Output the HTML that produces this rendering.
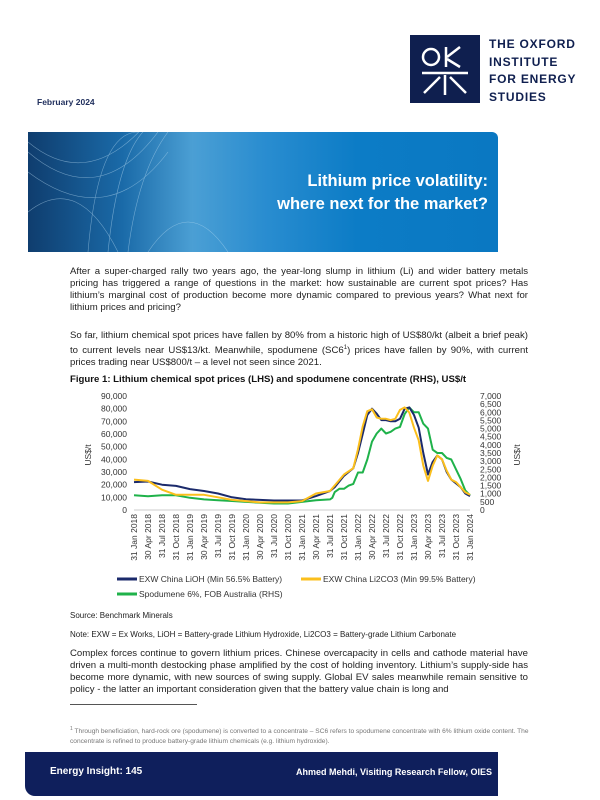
<!DOCTYPE html>
<html><head><meta charset="utf-8"><style>
*{margin:0;padding:0}
body{width:600px;height:800px;position:relative;background:#fff;font-family:"Liberation Sans",Arial,sans-serif;color:#222;overflow:hidden}
.a{position:absolute}
p.t{position:absolute;left:70px;width:458px;font-size:9.6px;line-height:12px;text-align:justify;color:#222}
</style></head><body>
<div class="a" style="left:410px;top:35px;width:70px;height:68px;background:#0f1f4f"></div>
<svg class="a" style="left:410px;top:35px" width="70" height="68">
<g stroke="#fff" stroke-width="2.5" fill="none">
<circle cx="21" cy="22" r="8"/><line x1="36" y1="12" x2="36" y2="32"/><line x1="37" y1="22" x2="50" y2="12"/><line x1="37" y1="24" x2="50" y2="32"/>
<line x1="12" y1="38" x2="58" y2="38"/><line x1="35" y1="40" x2="35" y2="60"/><line x1="30" y1="42" x2="14" y2="58"/><line x1="40" y1="42" x2="56" y2="58"/>
</g></svg>
<div class="a" style="left:489px;top:36px;font-size:12px;font-weight:bold;line-height:17.5px;color:#0f1f4f;letter-spacing:0.8px;font-family:'Liberation Sans',sans-serif">THE OXFORD<br>INSTITUTE<br>FOR ENERGY<br>STUDIES</div>
<div class="a" style="left:37px;top:97px;font-size:8.5px;font-weight:bold;color:#1f2e5c">February 2024</div>
<div class="a" style="left:28px;top:132px;width:470px;height:120px;border-radius:0 6px 0 0;background:linear-gradient(90deg,#0f3d6e 0%,#1a6aa8 20%,#4b9fd4 35%,#2a8dd0 50%,#0c7cc6 70%,#0a78c2 100%);overflow:hidden">
<svg width="470" height="120"><g fill="none" stroke="#bfe0f5" stroke-width="0.6" opacity="0.5">
<path d="M0 10 Q60 60 120 -10"/><path d="M0 20 Q70 80 130 0"/><path d="M0 40 Q80 100 140 20"/><path d="M60 120 Q70 0 110 0"/><path d="M80 120 Q90 20 120 -5"/><path d="M100 120 Q110 40 140 0"/><path d="M120 120 Q160 60 200 120"/><path d="M0 80 Q50 40 90 120"/></g></svg></div>
<div class="a" style="left:126px;top:170px;width:362px;text-align:right;color:#fff;font-weight:bold;font-size:16.5px;line-height:23px">Lithium price volatility:<br>where next for the market?</div>
<p class="t" style="top:266px">After a super-charged rally two years ago, the year-long slump in lithium (Li) and wider battery metals pricing has triggered a range of questions in the market: how sustainable are current spot prices? Has lithium’s marginal cost of production become more dynamic compared to previous years? What next for lithium prices and pricing?</p>
<p class="t" style="top:330px">So far, lithium chemical spot prices have fallen by 80% from a historic high of US$80/kt (albeit a brief peak) to current levels near US$13/kt. Meanwhile, spodumene (SC6<sup style="font-size:6px">1</sup>) prices have fallen by 90%, with current prices trading near US$800/t – a level not seen since 2021.</p>
<div class="a" style="left:70px;top:374px;font-size:9.6px;font-weight:bold;color:#111">Figure 1: Lithium chemical spot prices (LHS) and spodumene concentrate (RHS), US$/t</div>
<svg class="a" style="left:0;top:385px" width="600" height="230" id="ch"></svg>
<div class="a" style="left:70px;top:611px;font-size:8px">Source: Benchmark Minerals</div>
<div class="a" style="left:70px;top:630px;font-size:8px">Note: EXW = Ex Works, LiOH = Battery-grade Lithium Hydroxide, Li2CO3 = Battery-grade Lithium Carbonate</div>
<p class="t" style="top:648px">Complex forces continue to govern lithium prices. Chinese overcapacity in cells and cathode material have driven a multi-month destocking phase amplified by the cost of holding inventory. Lithium’s supply-side has become more dynamic, with new sources of swing supply. Global EV sales meanwhile remain sensitive to policy - the latter an important consideration given that the battery value chain is long and</p>
<div class="a" style="left:70px;top:704px;width:127px;height:1px;background:#555"></div>
<div class="a" style="left:70px;top:724px;width:460px;font-size:6.6px;line-height:10px;color:#777"><sup style="font-size:5px">1</sup> Through beneficiation, hard-rock ore (spodumene) is converted to a concentrate – SC6 refers to spodumene concentrate with 6% lithium oxide content. The concentrate is refined to produce battery-grade lithium chemicals (e.g. lithium hydroxide).</div>
<div class="a" style="left:25px;top:752px;width:473px;height:44px;background:#0f1f5c;border-radius:0 0 0 10px"></div>
<div class="a" style="left:50px;top:766px;font-size:10px;font-weight:bold;color:#fff">Energy Insight: 145</div>
<div class="a" style="left:296px;top:767px;font-size:9px;font-weight:bold;color:#fff">Ahmed Mehdi, Visiting Research Fellow, OIES</div>
<script>
var s=document.getElementById('ch'),o=385,h='';
function X(m){return 134+m*336/72}
function YL(v){return 510-o-v*114/90}
function YR(v){return 510-o-v*114/7000}
var yl=['0','10,000','20,000','30,000','40,000','50,000','60,000','70,000','80,000','90,000'];
for(var i=0;i<10;i++)h+='<text x="127" y="'+(YL(i*10)+3)+'" font-size="8.5" text-anchor="end" fill="#333">'+yl[i]+'</text>';
for(var i=0;i<=14;i++){var v=i*500;h+='<text x="480" y="'+(YR(v)+3)+'" font-size="8.5" fill="#333">'+(v>=1000?(v/1000|0)+','+('00'+v%1000).slice(-3):v)+'</text>';}
h+='<text transform="translate(91,'+(YL(45)+2)+') rotate(-90)" font-size="8.5" text-anchor="middle" fill="#333">US$/t</text>';
h+='<text transform="translate(520,'+(YL(45)+2)+') rotate(-90)" font-size="8.5" text-anchor="middle" fill="#333">US$/t</text>';
h+='<line x1="134" x2="470" y1="'+YL(0)+'" y2="'+YL(0)+'" stroke="#bbb" stroke-width="0.8"/>';
var mn=['Jan','Apr','Jul','Oct'],dd=['31','30','31','31'];
for(var i=0;i<=24;i++){var yr=2018+Math.floor(i/4),q=i%4;var x=X(i*3)+3;h+='<text transform="translate('+x+',129) rotate(-90)" font-size="8.5" text-anchor="end" fill="#333">'+dd[q]+' '+mn[q]+' '+yr+'</text>';}
function P(pts,f,c){var d='';for(var i=0;i<pts.length;i+=2)d+=(i?'L':'M')+X(pts[i]).toFixed(1)+' '+f(pts[i+1]).toFixed(1);return '<path d="'+d+'" fill="none" stroke="'+c+'" stroke-width="2" stroke-linejoin="round"/>';}
var sp=[0,900,3,850,6,900,9,900,12,750,15,650,18,600,21,550,24,500,27,450,30,400,33,400,36,500,39,600,42,650,42.5,750,43,1100,44,1300,45,1300,46,1500,47,1600,48,2300,49,2300,50,3100,51,4200,52,4700,53,5000,54,4700,55,4800,56,5000,57,5100,58,5900,59,6300,60,6000,61,6000,62,5300,63,5000,64,3700,65,3500,66,3500,67,3200,68,3100,69,2500,70,1900,71,1200,72,900];
var li=[0,22,3,22.5,6,20,9,19,12,16.5,15,15,18,13,21,10,24,8.5,27,8,30,7.5,33,7.5,36,7.5,39,11,42,15,43,18,45,27,46,30,47,33,48,45,49,60,50,75,51,80,52,76,53,71,54,71,55,70,56,70,57,72,58,80,59,81,60,75,61,65,62,45,63,28,64,38,65,43,66,40,67,30,68,24,69,21,70,18,71,13,72,11];
var lc=[0,24,3,23,6,16,9,12,12,12,15,12,18,10,21,8,24,7,27,6,30,6,33,6,36,7,39,13,42,15,45,28,47,33,48,48,49,66,50,78,51,79.5,52,73,53,72,54,72,55,71,56,72,57,79,58,81,59,77,60,65,61,55,62,35,63,23,64,35,65,43,66,40,67,31,68,24,69,22,70,18,71,14,72,12];
h+=P(sp,YR,'#1fb24a')+P(li,YL,'#1b2a6b')+P(lc,YL,'#fbbf1c');
h+='<line x1="117" x2="137" y1="194" y2="194" stroke="#1b2a6b" stroke-width="3"/><text x="139" y="197" font-size="8.5" fill="#333">EXW China LiOH (Min 56.5% Battery)</text>';
h+='<line x1="301" x2="321" y1="194" y2="194" stroke="#fbbf1c" stroke-width="3"/><text x="323" y="197" font-size="8.5" fill="#333">EXW China Li2CO3 (Min 99.5% Battery)</text>';
h+='<line x1="117" x2="137" y1="209" y2="209" stroke="#1fb24a" stroke-width="3"/><text x="139" y="212" font-size="8.5" fill="#333">Spodumene 6%, FOB Australia (RHS)</text>';
s.innerHTML=h;
</script>
</body></html>
